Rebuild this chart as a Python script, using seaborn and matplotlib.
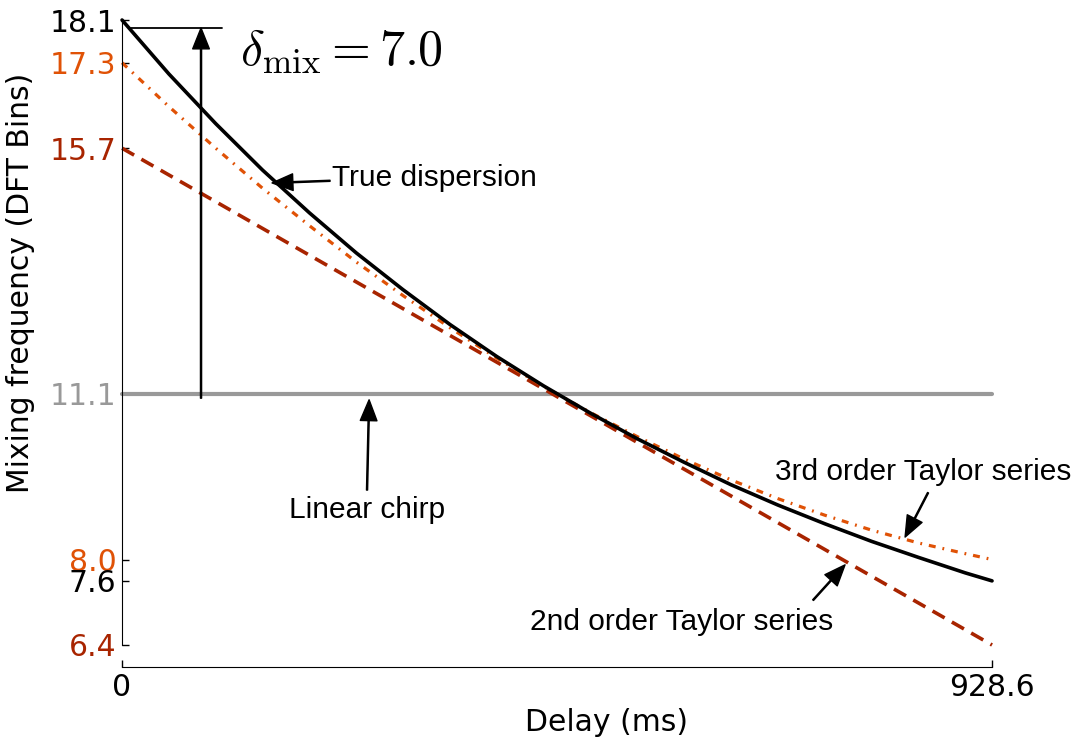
import numpy as np
import pandas as pd
import seaborn as sns
import matplotlib.pyplot as plt

# values
delay_true = [0, 50, 100, 150, 200, 250, 300, 350, 400, 450, 500, 550, 600,
              650, 700, 750, 800, 850, 900, 928.6]
freq_true = [18.1, 17.09, 16.16, 15.29, 14.49, 13.74, 13.05, 12.40, 11.80, 11.25,
             10.74, 10.26, 9.82, 9.40, 9.02, 8.67, 8.34, 8.04, 7.75, 7.6]

delay_2nd = [0, 928.6]
freq_2nd = [15.7, 6.4]

delay_3rd = [0, 50, 100, 150, 200, 250, 300, 350, 400, 450, 500, 550, 600,
             650, 700, 750, 800, 850, 900, 928.6]
freq_3rd = [17.3, 16.48, 15.70, 14.95, 14.25, 13.57, 12.94, 12.34, 11.77, 11.24,
            10.75, 10.30, 9.88, 9.49, 9.14, 8.83, 8.55, 8.31, 8.11, 8.0]

delay_chirp = [0, 928.6]
freq_chirp = [11.1, 11.1]

ytick_vals = [18.1, 17.3, 15.7, 11.1, 8.0, 7.6, 6.4]
ytick_cols = ['black', '#e05206', '#a82400', '#999999', '#e05206', 'black', '#a82400']
xtick_vals = [0, 928.6]

sns.set_style('ticks')
plt.rcParams['font.family'] = ['DejaVu Sans']
plt.rcParams['mathtext.fontset'] = 'cm'
plt.rcParams['lines.scale_dashes'] = False
for k in ['text.color', 'axes.labelcolor', 'xtick.color', 'ytick.color', 'axes.edgecolor']:
    plt.rcParams[k] = 'black'

fig = plt.figure(figsize=(10.81, 7.44), dpi=100)
ax = fig.add_axes([0.1129, 0.1331, 0.8048, 0.84])

sns.lineplot(x=delay_chirp, y=freq_chirp, ax=ax, color='#999999', lw=3, clip_on=False)
sns.lineplot(x=delay_2nd, y=freq_2nd, ax=ax, color='#a82400', lw=2.6,
             linestyle=(0, (10, 6)), clip_on=False)
sns.lineplot(x=delay_3rd, y=freq_3rd, ax=ax, color='#e05206', lw=2.3,
             linestyle=(0, (5, 5, 1.3, 5)), clip_on=False)
sns.lineplot(x=delay_true, y=freq_true, ax=ax, color='black', lw=2.6, clip_on=False)

ax.set_xlim(0, 928.6)
ax.set_ylim(6.4, 18.1)
ax.set_xticks(xtick_vals)
ax.set_xticklabels(['0', '928.6'])
ax.set_yticks(ytick_vals)
ax.set_yticklabels(['%.1f' % v for v in ytick_vals])
for lab, c in zip(ax.get_yticklabels(), ytick_cols):
    lab.set_color(c)

ax.tick_params(direction='in', length=5, width=1, labelsize=21.5, pad=4)
ax.spines['top'].set_visible(False)
ax.spines['right'].set_visible(False)
ax.spines['bottom'].set_position(('outward', 16))

ax.set_xlabel('Delay (ms)', fontsize=21.5)
ax.set_ylabel('Mixing frequency (DFT Bins)', fontsize=21.5)
ax.xaxis.set_label_coords(0.557, -0.101)
ax.yaxis.set_label_coords(-0.100, 0.579)

# delta annotation
ax.plot([10, 106.7], [17.95, 17.95], color='black', lw=1.3, clip_on=False)
arrow = dict(facecolor='black', edgecolor='black', width=0.8, headwidth=12,
             headlength=15, shrink=0)
ax.annotate('', xy=(84.3, 17.95), xytext=(84.3, 11.02), arrowprops=arrow)
ax.text(126, 17.5, r'$\delta_{\mathrm{mix}} = 7.0$', fontsize=36, ha='left', va='center')

lab_font = dict(fontsize=21.5, family='Liberation Sans')
ax.annotate('', xy=(160.1, 15.05), xytext=(222, 15.09), arrowprops=arrow)
ax.text(224, 15.14, 'True dispersion', ha='left', va='center', **lab_font)

ax.annotate('', xy=(263.7, 10.99), xytext=(261.5, 9.30), arrowprops=arrow)
ax.text(261.5, 8.93, 'Linear chirp', ha='center', va='center', **lab_font)

ax.annotate('', xy=(835.8, 8.42), xytext=(860.3, 9.25), arrowprops=arrow)
ax.text(697, 9.64, '3rd order Taylor series', ha='left', va='center', **lab_font)

ax.annotate('', xy=(771.7, 7.90), xytext=(737.6, 7.24), arrowprops=arrow)
ax.text(435, 6.83, '2nd order Taylor series', ha='left', va='center', **lab_font)

fig.savefig('out.png', dpi=100)
